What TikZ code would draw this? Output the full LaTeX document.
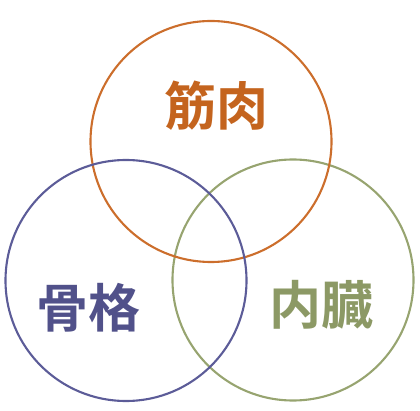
\documentclass[tikz,border=0pt]{standalone}
\usepackage{fontspec}
\newfontfamily\cjk{Noto Sans CJK JP Bold}
\definecolor{orangeC}{HTML}{CC6E2C}
\definecolor{purpleC}{HTML}{5C5C98}
\definecolor{greenC}{HTML}{97A470}
\definecolor{orangeT}{HTML}{C4641E}
\definecolor{purpleT}{HTML}{51518A}
\definecolor{greenT}{HTML}{8C9965}
\begin{document}
\begin{tikzpicture}[x=1pt,y=-1pt,
  ring/.style={draw=#1,line width=2.1pt,circle,minimum size=241pt,inner sep=0pt},
  lab/.style={text=#1,font=\cjk\fontsize{52}{52}\selectfont,inner sep=0pt}]
\useasboundingbox (0,0) rectangle (420,411);
\node[ring=greenC] (cg) at (293,280) {};
\node[ring=orangeC] (co) at (211,141.5) {};
\node[ring=purpleC] (cp) at (126,280.5) {};
\node[lab=orangeT] (to) at (216,106) {筋肉};
\node[lab=purpleT] (tp) at (88,308) {骨格};
\node[lab=greenT] (tg) at (321,305) {内臓};
\end{tikzpicture}
\end{document}
